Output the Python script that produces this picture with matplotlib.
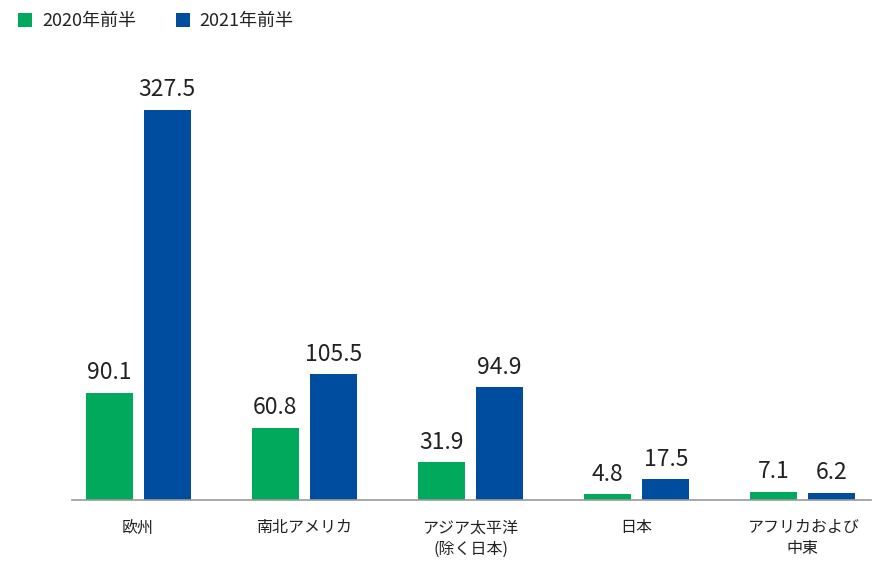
import matplotlib.pyplot as plt
import numpy as np

plt.rcParams['font.family'] = ['Noto Sans CJK JP', 'DejaVu Sans']

categories = ["欧州", "南北アメリカ", "アジア太平洋\n(除く日本)", "日本", "アフリカおよび\n中東"]
h1_2020 = [90.1, 60.8, 31.9, 4.8, 7.1]
h1_2021 = [327.5, 105.5, 94.9, 17.5, 6.2]
series_names = ["2020年前半", "2021年前半"]

green = "#00A95C"
blue = "#004DA0"
txt = "#222222"

fig = plt.figure(figsize=(8.89, 5.77), dpi=100)
ax = fig.add_axes([72/889, 77/577, (871-72)/889, 417/577])

x = np.arange(len(categories))
off = 0.175
w = 0.283
b1 = ax.bar(x - off, h1_2020, w, color=green, label=series_names[0])
b2 = ax.bar(x + off, h1_2021, w, color=blue, label=series_names[1])

for bars in (b1, b2):
    for r in bars:
        ax.annotate(f"{r.get_height():.1f}", (r.get_x() + r.get_width()/2, r.get_height()),
                    xytext=(0, 6), textcoords="offset points", ha="center", va="bottom",
                    fontsize=16.5, color=txt)

ax.set_xlim(-0.398, 4.41)
ax.set_ylim(0, 350)
ax.set_xticks(x)
ax.set_xticklabels(categories, fontsize=11.5, color=txt, linespacing=1.3)
ax.tick_params(axis="x", length=0, pad=14)
ax.set_yticks([])
for s in ["top", "right", "left"]:
    ax.spines[s].set_visible(False)
ax.spines["bottom"].set_color("#999999")
ax.spines["bottom"].set_linewidth(1.2)

leg = fig.legend(loc="upper left", bbox_to_anchor=(18/889, 1 - 12/577), ncol=2, frameon=False,
                 fontsize=13, handlelength=0.78, handleheight=0.78, columnspacing=2.2,
                 handletextpad=0.55, borderpad=0, borderaxespad=0)
for t in leg.get_texts():
    t.set_color(txt)

fig.savefig("out.png", dpi=100)
